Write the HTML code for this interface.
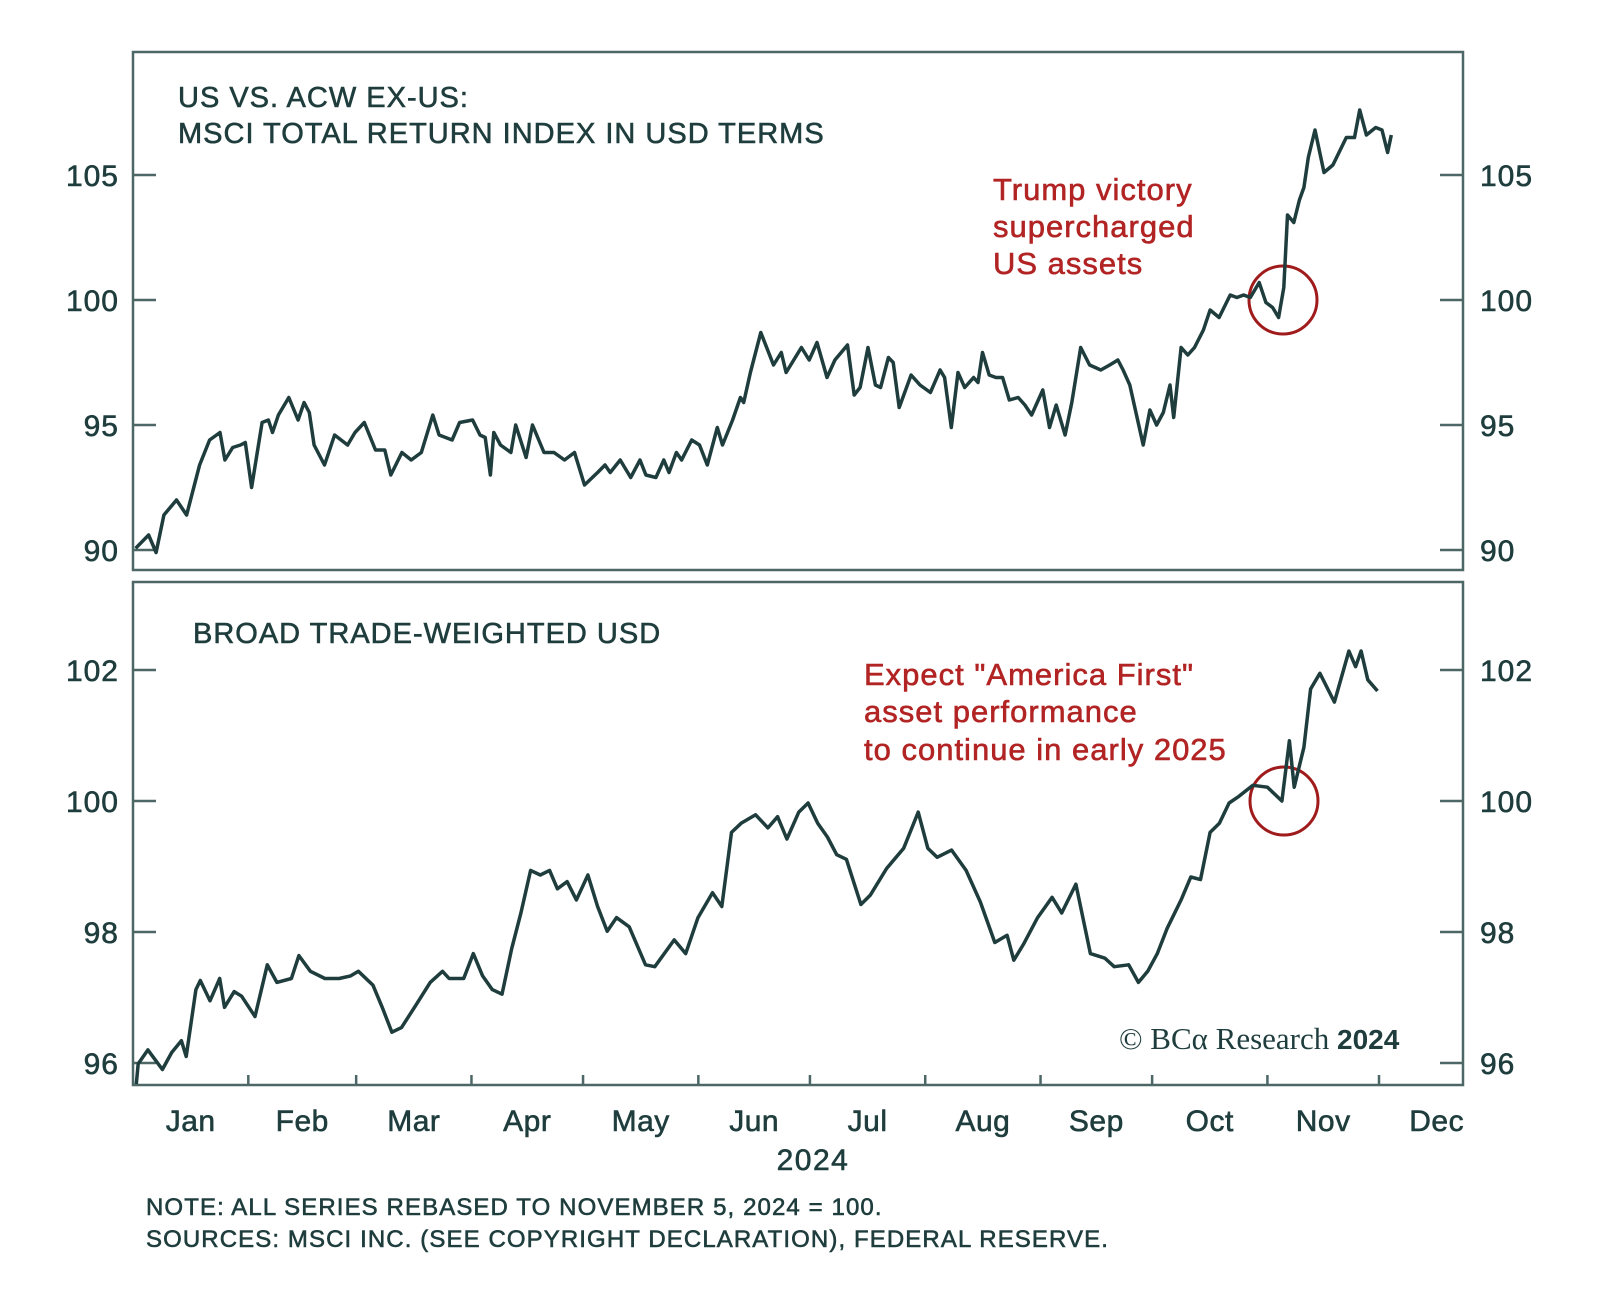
<!DOCTYPE html>
<html><head><meta charset="utf-8"><style>
html,body{margin:0;padding:0;background:#fff;}
svg{display:block;font-family:"Liberation Sans",sans-serif;}
svg text{stroke-width:0.6;}
</style></head><body>
<svg id="chart" width="1600" height="1291" viewBox="0 0 1600 1291">
<g id="top">
<rect x="133" y="52" width="1330" height="518" fill="none" stroke="#4d6666" stroke-width="2.5"/>
<text x="178" y="107" font-size="29" fill="#1f3d3d" stroke="#1f3d3d" letter-spacing="1">US VS. ACW EX-US:</text>
<text x="178" y="143" font-size="29" fill="#1f3d3d" stroke="#1f3d3d" letter-spacing="1">MSCI TOTAL RETURN INDEX IN USD TERMS</text>
<g fill="#b22424" stroke="#b22424" font-size="31" letter-spacing="1">
<text x="993" y="200">Trump victory</text>
<text x="993" y="237">supercharged</text>
<text x="993" y="274">US assets</text>
</g>
<circle cx="1283" cy="300" r="34" fill="none" stroke="#a01c1c" stroke-width="3"/>
</g>
<g id="bottom">
<rect x="133" y="582" width="1330" height="503" fill="none" stroke="#4d6666" stroke-width="2.5"/>
<text x="193" y="643" font-size="29" fill="#1f3d3d" stroke="#1f3d3d" letter-spacing="1">BROAD TRADE-WEIGHTED USD</text>
<g fill="#b22424" stroke="#b22424" font-size="31" letter-spacing="1">
<text x="864" y="685">Expect "America First"</text>
<text x="864" y="722">asset performance</text>
<text x="864" y="760">to continue in early 2025</text>
</g>
<circle cx="1284" cy="801" r="34" fill="none" stroke="#a01c1c" stroke-width="3"/>
<text x="1119" y="1049" font-size="31" fill="#1f3d3d" font-family="Liberation Serif,serif" letter-spacing="0">© BCα Research <tspan font-family="Liberation Sans,sans-serif" font-weight="bold" font-size="28">2024</tspan></text>
</g>
<text x="813" y="1170" font-size="30" fill="#1f3d3d" stroke="#1f3d3d" letter-spacing="1.5" text-anchor="middle">2024</text>
<text x="146" y="1215" font-size="24" fill="#1f3d3d" stroke="#1f3d3d" letter-spacing="1.1">NOTE: ALL SERIES REBASED TO NOVEMBER 5, 2024 = 100.</text>
<text x="146" y="1247" font-size="24" fill="#1f3d3d" stroke="#1f3d3d" letter-spacing="1.1">SOURCES: MSCI INC. (SEE COPYRIGHT DECLARATION), FEDERAL RESERVE.</text>
</svg>
<script>
const topDays=[0.7,4.2,6.2,8.3,11.7,14.4,17.9,20.6,23.4,24.7,26.8,28.9,30.2,31.9,34.7,36.4,37.5,39.1,41.9,44.4,46.0,47.4,48.7,51.5,54.2,57.7,59.7,62.2,65.2,67.7,69.3,72.3,74.8,77.5,80.6,82.3,85.8,87.8,91.3,93.3,94.7,96.1,97.0,98.8,101.6,102.9,105.7,107.4,110.5,113.2,116.0,118.7,121.4,124.9,126.9,128.3,131.0,133.8,136.3,137.9,140.6,142.7,144.1,146.1,147.5,150.2,152.3,154.4,157.1,158.5,161.2,163.3,164.2,166.0,168.8,172.2,174.3,175.6,179.7,181.8,183.9,186.6,188.7,192.1,193.9,195.5,197.6,199.6,201.0,203.1,204.4,206.0,209.2,211.6,214.4,217.0,218.2,220.0,221.8,223.6,226.0,227.2,228.4,230.2,232.0,233.8,235.6,238.0,239.8,241.6,244.6,246.4,248.2,250.6,252.4,254.8,257.2,260.2,262.6,264.8,266.2,268.0,271.6,273.4,275.2,277.0,278.8,279.8,281.8,283.6,285.4,287.8,289.6,292.0,295.0,296.8,298.6,300.4,302.8,304.6,306.4,308.0,309.4,310.4,312.1,313.6,314.8,316.0,317.8,320.2,322.6,326.2,328.4,329.8,331.6,334.1,335.8,337.3,338.3];
const topValues=[90.07,90.6,89.9,91.4,92.0,91.4,93.4,94.4,94.7,93.6,94.1,94.2,94.3,92.5,95.1,95.2,94.7,95.4,96.1,95.2,95.9,95.5,94.2,93.4,94.6,94.2,94.7,95.1,94.0,94.0,93.0,93.9,93.6,93.9,95.4,94.6,94.4,95.1,95.2,94.6,94.5,93.0,94.7,94.2,93.9,95.0,93.7,95.0,93.9,93.9,93.6,93.9,92.6,93.1,93.4,93.1,93.6,92.9,93.6,93.0,92.9,93.6,93.1,93.9,93.6,94.4,94.2,93.4,94.9,94.2,95.2,96.1,95.9,97.1,98.7,97.4,97.9,97.1,98.1,97.6,98.3,96.9,97.6,98.2,96.2,96.5,98.1,96.6,96.5,97.7,97.5,95.7,97.0,96.6,96.3,97.2,96.9,94.9,97.1,96.5,96.9,96.7,97.9,97.0,96.9,96.9,96.0,96.1,95.8,95.4,96.4,94.9,95.8,94.6,95.9,98.1,97.4,97.2,97.4,97.6,97.2,96.6,94.2,95.6,95.0,95.5,96.6,95.3,98.1,97.8,98.1,98.8,99.6,99.3,100.2,100.1,100.2,100.1,100.7,99.9,99.7,99.3,100.5,103.4,103.1,104.0,104.5,105.7,106.8,105.1,105.4,106.5,106.5,107.6,106.6,106.9,106.8,105.9,106.6];
const botDays=[0.9,1.4,4.0,7.9,10.4,13.0,14.3,16.9,18.1,20.7,23.3,24.6,27.2,29.2,32.8,36.1,38.7,42.6,44.6,47.7,51.6,55.4,58.5,60.6,64.5,67.0,69.6,72.2,76.0,79.9,83.2,85.0,88.9,91.5,94.0,96.6,99.2,101.8,104.3,106.9,109.5,112.0,114.1,116.7,119.2,122.3,124.9,127.5,130.0,133.4,137.8,140.3,145.5,148.6,151.9,155.8,158.3,160.9,163.5,167.4,170.7,173.3,175.8,179.0,181.5,184.1,186.7,189.2,191.8,195.7,198.2,202.6,207.2,211.1,213.7,216.2,220.1,224.0,227.8,231.7,235.0,236.8,239.4,243.2,247.1,249.7,253.5,257.4,261.3,263.8,267.7,270.3,272.8,275.4,278.0,281.8,284.4,287.0,289.6,292.1,294.7,297.3,301.1,305.0,308.9,310.9,312.2,314.8,316.6,319.1,323.0,326.9,328.7,330.2,332.0,334.6];
const botValues=[95.68,95.99,96.2,95.9,96.16,96.34,96.1,97.12,97.26,96.95,97.29,96.85,97.09,97.02,96.71,97.5,97.23,97.29,97.64,97.4,97.29,97.29,97.33,97.4,97.19,96.85,96.47,96.54,96.88,97.23,97.4,97.29,97.29,97.67,97.33,97.12,97.05,97.74,98.29,98.94,98.87,98.94,98.66,98.77,98.49,98.87,98.39,98.01,98.22,98.08,97.5,97.47,97.88,97.67,98.22,98.6,98.39,99.52,99.66,99.79,99.59,99.76,99.42,99.83,99.97,99.66,99.45,99.18,99.11,98.42,98.56,98.97,99.28,99.83,99.28,99.14,99.25,98.94,98.46,97.84,97.95,97.57,97.81,98.22,98.53,98.29,98.73,97.67,97.6,97.47,97.5,97.23,97.4,97.67,98.05,98.49,98.84,98.8,99.52,99.66,99.97,100.07,100.24,100.21,100.0,100.92,100.21,100.82,101.71,101.95,101.51,102.29,102.05,102.29,101.85,101.68];
const topTicks=[90,95,100,105];
const botTicks=[96,98,100,102];
const months=["Jan","Feb","Mar","Apr","May","Jun","Jul","Aug","Sep","Oct","Nov","Dec"];
const monthStarts=[0,31,60,91,121,152,182,213,244,274,305,335,366];

const NS="http://www.w3.org/2000/svg";
const svg=document.getElementById('chart');
const X0=133,PXD=(1379-133)/335;
const xs=d=>X0+d*PXD;
const yTop=v=>300-(v-100)*25;
const yBot=v=>801-(v-100)*65.5;
const C="#1f3d3d";
function mk(tag,attrs,parent){const e=document.createElementNS(NS,tag);for(const k in attrs)e.setAttribute(k,attrs[k]);(parent||svg).appendChild(e);return e;}
function path(days,vals,yf){return days.map((d,i)=>(i?'L':'M')+xs(d).toFixed(1)+','+yf(vals[i]).toFixed(1)).join(' ');}

const gT=document.getElementById('top'),gB=document.getElementById('bottom');
function ticks(list,yf,g,prefix){
  list.forEach(v=>{
    const y=yf(v);
    const l1=mk('line',{x1:133,x2:156,y1:y,y2:y,stroke:"#4d6666","stroke-width":2.5},g);
    
    
    const l2=mk('line',{x1:1440,x2:1463,y1:y,y2:y,stroke:"#4d6666","stroke-width":2.5},g);
    
    
    const t1=mk('text',{x:119,y:y+11,"font-size":30,fill:C,stroke:C,"letter-spacing":1,"text-anchor":"end"},g);t1.textContent=v;
    
    
    const t2=mk('text',{x:1480,y:y+11,"font-size":30,fill:C,stroke:C,"letter-spacing":1},g);t2.textContent=v;
    
    
  });
}
ticks(topTicks,yTop,gT,'top-y');
ticks(botTicks,yBot,gB,'bottom-y');

const p1=mk('path',{d:path(topDays,topValues,yTop),fill:"none",stroke:C,"stroke-width":3.5,"stroke-linejoin":"round"},gT);


const p2=mk('path',{d:path(botDays,botValues,yBot),fill:"none",stroke:C,"stroke-width":3.5,"stroke-linejoin":"round"},gB);



months.forEach((m,i)=>{
  if(i>0){
    const t=mk('line',{x1:xs(monthStarts[i]),x2:xs(monthStarts[i]),y1:1085,y2:1075,stroke:"#4d6666","stroke-width":2.5});
    
    
  }
  const lbl=mk('text',{x:xs((monthStarts[i]+monthStarts[i+1])/2),y:1131,"font-size":30,fill:C,stroke:C,"letter-spacing":0.5,"text-anchor":"middle"});
  lbl.textContent=m;
  
  
});
</script>
</body></html>
